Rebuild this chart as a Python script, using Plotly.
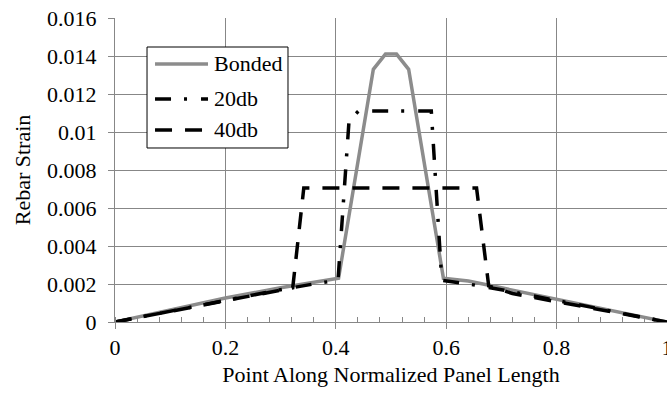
import plotly.graph_objects as go

# ---- data ----
bonded_x = [0, 0.1, 0.2, 0.3, 0.36, 0.405, 0.468, 0.49, 0.51, 0.532, 0.595, 0.64, 0.7, 0.8, 0.9, 1.0]
bonded_y = [0, 0.00063, 0.00126, 0.0018, 0.0021, 0.0023, 0.0133, 0.0141, 0.0141, 0.0133,
            0.0023, 0.00216, 0.0018, 0.0012, 0.0006, 0]

db20_x = [0, 0.1, 0.2, 0.3, 0.36, 0.404, 0.424, 0.441, 0.5, 0.573, 0.592, 0.64, 0.7, 0.8, 0.9, 1.0]
db20_y = [0, 0.00058, 0.00116, 0.0017, 0.002, 0.0022, 0.0106, 0.0111, 0.0111, 0.0111,
          0.0022, 0.002, 0.0017, 0.00112, 0.00056, 0]

db40_x = [0, 0.1, 0.2, 0.3, 0.322, 0.342, 0.5, 0.655, 0.677, 0.72, 0.8, 0.9, 1.0]
db40_y = [0, 0.00056, 0.00114, 0.0017, 0.0018, 0.00705, 0.00705, 0.00705, 0.0019, 0.0015,
          0.00107, 0.00054, 0]

series_names = ["Bonded", "20db", "40db"]

y_tickvals = [0, 0.002, 0.004, 0.006, 0.008, 0.01, 0.012, 0.014, 0.016]
y_ticktext = ["0", "0.002", "0.004", "0.006", "0.008", "0.01", "0.012", "0.014", "0.016"]
x_tickvals = [0, 0.2, 0.4, 0.6, 0.8, 1.0]
x_ticktext = ["0", "0.2", "0.4", "0.6", "0.8", "1"]

FONT = "Liberation Serif"
FS = 22
GRID = "#878787"
GRAY = "#8c8c8c"
LW = 3.5
styles = [
    dict(color=GRAY, width=LW, dash="solid"),
    dict(color="black", width=LW, dash="16px,13px,3px,14px"),
    dict(color="black", width=LW, dash="17px,13px"),
]

fig = go.Figure()
for xs, ys, name, st in zip([bonded_x, db20_x, db40_x], [bonded_y, db20_y, db40_y],
                            series_names, styles):
    fig.add_trace(go.Scatter(x=xs, y=ys, mode="lines", name=name, line=st,
                             showlegend=False))

# ---- legend box drawn in paper coordinates ----
box = dict(x0=0.058, x1=0.3134, y0=0.5724, y1=0.9046)
row_y = [0.8487, 0.7336, 0.6316]
sample_x0, sample_x1, text_x = 0.0725, 0.1685, 0.1757

shapes = [dict(type="rect", xref="paper", yref="paper", layer="above",
               fillcolor="white", line=dict(color="black", width=1), **box)]
annotations = []
for name, st, yy in zip(series_names, styles, row_y):
    shapes.append(dict(type="line", xref="paper", yref="paper", layer="above",
                       x0=sample_x0, x1=sample_x1, y0=yy, y1=yy,
                       line=dict(color=st["color"], width=st["width"], dash=st["dash"])))
    annotations.append(dict(xref="paper", yref="paper", x=text_x, y=yy, text=name,
                            showarrow=False, xanchor="left", yanchor="middle",
                            font=dict(family=FONT, size=FS, color="black")))

fig.update_layout(
    width=667, height=398,
    margin=dict(l=115, r=0, t=18, b=76),
    paper_bgcolor="white", plot_bgcolor="white",
    font=dict(family=FONT, size=FS, color="black"),
    showlegend=False,
    shapes=shapes, annotations=annotations,
    xaxis=dict(range=[0, 1], tickvals=x_tickvals, ticktext=x_ticktext,
               ticklabeloverflow="allow", automargin=False,
               showgrid=True, gridcolor=GRID, gridwidth=1,
               showline=True, linecolor=GRID, linewidth=1,
               ticks="outside", ticklen=6, tickcolor=GRID,
               minor=dict(dtick=0.04, ticks="inside", ticklen=5, tickcolor=GRID, showgrid=False),
               zeroline=False,
               title=dict(text="Point Along Normalized Panel Length", standoff=7,
                          font=dict(family=FONT, size=FS))),
    yaxis=dict(range=[0, 0.016], tickvals=y_tickvals, ticktext=y_ticktext,
               automargin=False,
               showgrid=True, gridcolor=GRID, gridwidth=1,
               showline=True, linecolor=GRID, linewidth=1,
               ticks="outside", ticklen=6, tickcolor=GRID,
               ticklabelstandoff=7,
               zeroline=False,
               title=dict(text="Rebar Strain", standoff=10,
                          font=dict(family=FONT, size=FS))),
)

fig.write_html("out.html")
